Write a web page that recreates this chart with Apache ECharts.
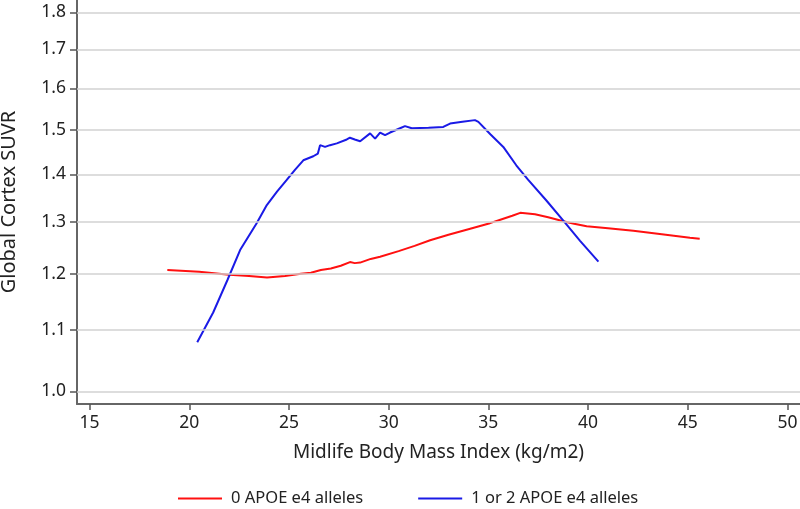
<!DOCTYPE html>
<html><head><meta charset="utf-8">
<script src="https://cdn.jsdelivr.net/npm/echarts@6/dist/echarts.min.js"></script>
<style>html,body{margin:0;padding:0;background:#fff}#c{width:800px;height:509px}</style>
</head><body><div id="c"></div>
<script>
const seriesNames = ['0 APOE e4 alleles', '1 or 2 APOE e4 alleles'];
const yTicks = [1.0, 1.1, 1.2, 1.3, 1.4, 1.5, 1.6, 1.7, 1.8];
const xTicks = [15, 20, 25, 30, 35, 40, 45, 50];
const red0 = [
  [18.9, 1.207], [20.5, 1.204], [22.0, 1.198], [23.0, 1.196], [23.9, 1.193], [24.8, 1.196],
  [25.6, 1.200], [26.1, 1.202], [26.6, 1.207], [27.1, 1.210], [27.6, 1.215], [28.06, 1.222],
  [28.3, 1.220], [28.57, 1.221], [29.1, 1.228], [29.57, 1.232], [30.5, 1.243], [31.3, 1.253],
  [32.08, 1.264], [33.0, 1.275], [34.0, 1.286], [35.08, 1.298], [35.6, 1.305], [36.2, 1.313],
  [36.6, 1.319], [37.34, 1.316], [38.0, 1.310], [38.76, 1.302], [39.3, 1.297], [39.93, 1.292],
  [41.0, 1.288], [42.27, 1.283], [43.7, 1.276], [45.11, 1.269], [45.6, 1.267]
];
const blue12 = [
  [20.4, 1.079], [21.2, 1.130], [21.91, 1.188], [22.55, 1.245], [23.38, 1.298], [23.89, 1.335],
  [24.4, 1.363], [24.89, 1.388], [25.3, 1.410], [25.72, 1.431], [26.22, 1.440], [26.45, 1.446],
  [26.56, 1.465], [26.81, 1.461], [27.06, 1.465], [27.4, 1.469], [27.9, 1.478], [28.06, 1.482],
  [28.3, 1.478], [28.57, 1.474], [29.07, 1.492], [29.32, 1.480], [29.57, 1.494], [29.82, 1.488],
  [30.07, 1.494], [30.57, 1.504], [30.82, 1.509], [31.16, 1.504], [32.0, 1.505], [32.74, 1.507],
  [33.08, 1.515], [33.7, 1.519], [34.33, 1.523], [34.5, 1.519], [35.1, 1.490], [35.75, 1.461],
  [36.4, 1.420], [37.0, 1.388], [37.9, 1.345], [38.76, 1.303], [39.6, 1.263], [40.52, 1.223]
];

const chart = echarts.init(document.getElementById('c'), null, {renderer: 'canvas'});
const FONT = 'Noto Sans';
chart.setOption({
  animation: false,
  backgroundColor: '#fff',
  textStyle: {fontFamily: FONT},
  grid: {left: 77, right: 0, top: 0, bottom: 105, outerBoundsMode: 'none', containLabel: false},
  legend: {
    bottom: -3, left: 173,
    data: seriesNames,
    itemWidth: 44, itemHeight: 10, itemGap: 55,
    textStyle: {fontSize: 16.5, color: '#222', fontFamily: FONT, padding: [0, 0, 0, 4]},
    icon: 'path://M0,4 L44,4 L44,6 L0,6 Z'
  },
  xAxis: {
    type: 'value', min: 14.37, max: 50.63,
    name: 'Midlife Body Mass Index (kg/m2)', nameLocation: 'middle', nameGap: 39,
    nameTextStyle: {fontSize: 19, color: '#222', fontFamily: FONT},
    axisLine: {lineStyle: {color: '#666', width: 2}},
    axisTick: {show: true, length: 6, lineStyle: {color: '#555', width: 1.5}, customValues: xTicks},
    axisLabel: {fontSize: 17.5, color: '#222', margin: 10, customValues: xTicks, fontFamily: FONT},
    splitLine: {show: false}
  },
  yAxis: {
    type: 'log', logBase: 10, min: 0.9805, max: 1.835,
    name: 'Global Cortex SUVR', nameLocation: 'middle', nameGap: 58, nameRotate: 90,
    nameTextStyle: {fontSize: 20, color: '#222', fontFamily: FONT},
    axisLine: {show: true, lineStyle: {color: '#666', width: 2}},
    axisTick: {show: true, length: 7, lineStyle: {color: '#555', width: 1.5}, customValues: yTicks},
    axisLabel: {fontSize: 17.5, color: '#222', margin: 11, customValues: yTicks, fontFamily: FONT,
      formatter: v => Number(v).toFixed(1)},
    splitLine: {show: false},
    minorTick: {show: false}, minorSplitLine: {show: false}
  },
  series: [
    {
      name: 'grid', type: 'line', data: [], z: 0, silent: true,
      markLine: {
        silent: true, symbol: 'none', label: {show: false},
        lineStyle: {color: '#d2d2d2', width: 1.5, type: 'solid'},
        data: yTicks.map(v => ({yAxis: v}))
      }
    },
    {
      name: seriesNames[0], type: 'line', data: red0, showSymbol: false, symbol: 'none',
      lineStyle: {color: '#ff1010', width: 2}, itemStyle: {color: '#ff1010'}, z: 3
    },
    {
      name: seriesNames[1], type: 'line', data: blue12, showSymbol: false, symbol: 'none',
      lineStyle: {color: '#1a1ae6', width: 2}, itemStyle: {color: '#1a1ae6'}, z: 4
    }
  ]
});
</script></body></html>
